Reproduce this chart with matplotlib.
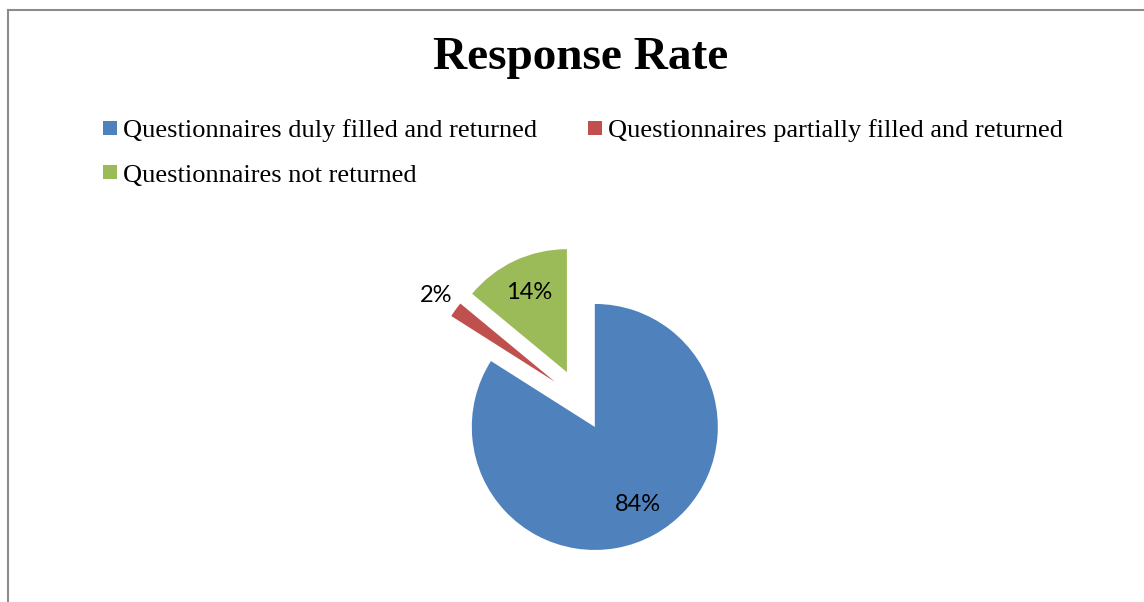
import numpy as np
import matplotlib
matplotlib.use("Agg")
import matplotlib.pyplot as plt
from matplotlib.patches import Rectangle
from matplotlib.lines import Line2D

# Survey response data
categories = [
    "Questionnaires duly filled and returned",
    "Questionnaires partially filled and returned",
    "Questionnaires not returned",
]
shares = [84, 2, 14]
colors = ["#4F81BD", "#C0504D", "#9BBB59"]

W, H = 1144, 602
fig = plt.figure(figsize=(W / 100, H / 100), dpi=100)
fig.patch.set_facecolor("white")

# Axes covering the whole figure, scaled so that one data unit = pie radius
R_PX = 123.0
CX, CY = 580.0, 400.0  # pie centre in pixels (from top-left)
ax = fig.add_axes([0, 0, 1, 1])

wedges, texts, autotexts = ax.pie(
    shares,
    colors=colors,
    startangle=90,
    counterclock=False,
    explode=[0.25] * len(shares),
    radius=1.0,
    autopct="%1.0f%%",
    pctdistance=0.72,
    wedgeprops=dict(linewidth=0),
    textprops=dict(family="Lato", fontsize=17, color="black"),
)

ax.set_xlim(-CX / R_PX, (W - CX) / R_PX)
ax.set_ylim(-(H - CY) / R_PX, CY / R_PX)
ax.set_aspect("auto")
ax.axis("off")

# Small slices get their label outside the wedge
for w, t, v in zip(wedges, autotexts, shares):
    if v < 5:
        mid = np.deg2rad((w.theta1 + w.theta2) / 2)
        cx, cy = w.center
        t.set_position((cx + 1.2 * np.cos(mid), cy + 1.2 * np.sin(mid)))

# Chart frame (top and left edges)
fig.add_artist(Line2D([7.5 / W, 7.5 / W], [0, 1 - 10 / H], transform=fig.transFigure,
                      color="#8c8c8c", linewidth=1.5))
fig.add_artist(Line2D([7.5 / W, 1], [1 - 10 / H, 1 - 10 / H], transform=fig.transFigure,
                      color="#8c8c8c", linewidth=1.5))

# Title
fig.text(581 / W, 1 - 69 / H, "Response Rate", ha="center", va="baseline",
         family="Liberation Serif", fontweight="bold", fontsize=34)

# Legend: two entries on the first row, one on the second
legend_layout = [(103, 136.5), (588, 136.5), (103, 181.5)]
for (x_px, base_px), label, col in zip(legend_layout, categories, colors):
    fig.add_artist(Rectangle((x_px / W, 1 - (base_px - 2) / H), 14 / W, 14 / H,
                             transform=fig.transFigure, facecolor=col, edgecolor="none"))
    fig.text((x_px + 20) / W, 1 - base_px / H, label, ha="left", va="baseline",
             family="Liberation Serif", fontsize=19)

fig.savefig("out.png", dpi=100, facecolor="white")
